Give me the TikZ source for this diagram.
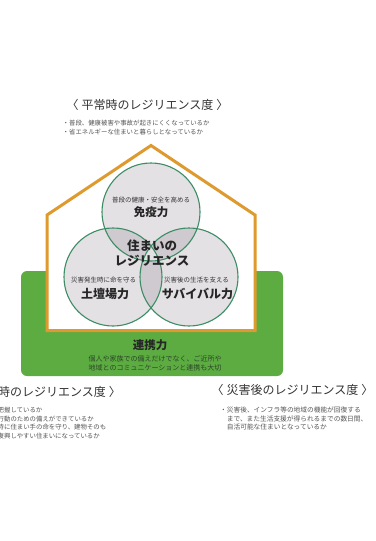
\documentclass[tikz,border=0pt]{standalone}
\usepackage{fontspec}
\setmainfont{Noto Sans CJK JP}
\definecolor{grn}{RGB}{92,172,66}
\definecolor{org}{RGB}{223,154,47}
\definecolor{cstroke}{RGB}{60,140,100}
\definecolor{clight}{RGB}{228,225,229}
\definecolor{cdark}{RGB}{206,202,208}
\definecolor{headc}{RGB}{51,51,51}
\definecolor{bulc}{RGB}{85,85,85}
\definecolor{grntxt}{RGB}{45,70,40}
\newcommand{\brsp}{\hspace{0.25em}}
\begin{document}
\begin{tikzpicture}[x=1pt,y=-1pt,
  heading/.style={text=headc,inner sep=0pt,font=\fontsize{12}{14}\selectfont},
  bullet/.style={text=bulc,inner sep=0pt,anchor=west,font=\fontsize{6.4}{8}\selectfont},
  bulletb/.style={text=bulc,inner sep=0pt,anchor=west,font=\fontsize{6.7}{8}\selectfont},
  small/.style={text=headc,inner sep=0pt,font=\fontsize{6.5}{8}\selectfont},
  big/.style={text=black!85,inner sep=0pt,font=\fontsize{12}{14}\selectfont\bfseries},
  gtxt/.style={text=grntxt,inner sep=0pt,font=\fontsize{7}{9}\selectfont},
  ring/.style={draw=cstroke,line width=1.1pt}]
\useasboundingbox (0,0) rectangle (375,541);
\fill[white] (0,0) rectangle (375,541);
\clip (0,0) rectangle (375,541);

% top heading
\node[heading] (h1) at (147.5,105) {〈\brsp 平常時のレジリエンス度\brsp 〉};
\node[bullet] (b11) at (62.5,123) {・普段、健康被害や事故が起きにくくなっているか};
\node[bullet] (b12) at (62.5,132.5) {・省エネルギーな住まいと暮らしとなっているか};

% green base
\fill[grn,rounded corners=6pt] (21,271) rectangle (283,376);
\node[big,font=\fontsize{11.5}{14}\selectfont\bfseries] (ren) at (150,345) {連携力};
\node[gtxt] (g1) at (155,358.5) {個人や家族での備えだけでなく、ご近所や};
\node[gtxt] (g2) at (155,368) {地域とのコミュニケーションと連携も大切};

% house
\draw[org,line width=3pt,fill=white,line join=miter]
  (47,330.5) -- (47,215) -- (151,145.5) -- (255,215) -- (255,330.5) -- cycle;

% circles
\coordinate (cT) at (151,212);
\coordinate (cL) at (113,277);
\coordinate (cR) at (189,277);
\def\rr{49}
\fill[clight] (cT) circle (\rr);
\fill[clight] (cL) circle (\rr);
\fill[clight] (cR) circle (\rr);
\begin{scope}\clip (cT) circle (\rr); \fill[cdark] (cL) circle (\rr); \end{scope}
\begin{scope}\clip (cT) circle (\rr); \fill[cdark] (cR) circle (\rr); \end{scope}
\begin{scope}\clip (cL) circle (\rr); \fill[cdark] (cR) circle (\rr); \end{scope}
\begin{scope}\clip (cT) circle (\rr); \clip (cL) circle (\rr); \fill[clight] (cR) circle (\rr); \end{scope}
\draw[ring] (cT) circle (\rr);
\draw[ring] (cL) circle (\rr);
\draw[ring] (cR) circle (\rr);

\node[small] (tS) at (151,200) {普段の健康・安全を高める};
\node[big,font=\fontsize{11.5}{14}\selectfont\bfseries] (tB) at (151,212.5) {免疫力};
\node[big,font=\fontsize{12.5}{14}\selectfont\bfseries] (m1) at (152,246) {住まいの};
\node[big,font=\fontsize{12.5}{14}\selectfont\bfseries] (m2) at (152,261) {レジリエンス};
\node[small] (lS) at (103.5,280) {災害発生時に命を守る};
\node[big] (lB) at (105,294) {土壇場力};
\node[small] (rS) at (196.5,280) {災害後の生活を支える};
\node[big] (rB) at (197.5,294) {サバイバル力};

% bottom left (cut off at the picture's edge, as in the reference)
\node[heading,anchor=east] (h2) at (121,392) {〈\brsp 災害時のレジリエンス度\brsp 〉};
\node[bullet] (b21) at (-2.5,410) {把握しているか};
\node[bullet] (b22) at (-2.5,418.8) {行動のための備えができているか};
\node[bullet] (b23) at (-2.5,427.5) {時に住まい手の命を守り、建物そのも};
\node[bullet] (b24) at (-2.5,436.2) {復興しやすい住まいになっているか};

% bottom right
\node[heading] (h3) at (292.5,390) {〈\brsp 災害後のレジリエンス度\brsp 〉};
\node[bulletb] (b31) at (220,410) {・災害後、インフラ等の地域の機能が回復する};
\node[bulletb] (b32) at (226.7,418.5) {まで、また生活支援が得られるまでの数日間、};
\node[bulletb] (b33) at (226.7,427) {自活可能な住まいとなっているか};
\end{tikzpicture}
\end{document}
